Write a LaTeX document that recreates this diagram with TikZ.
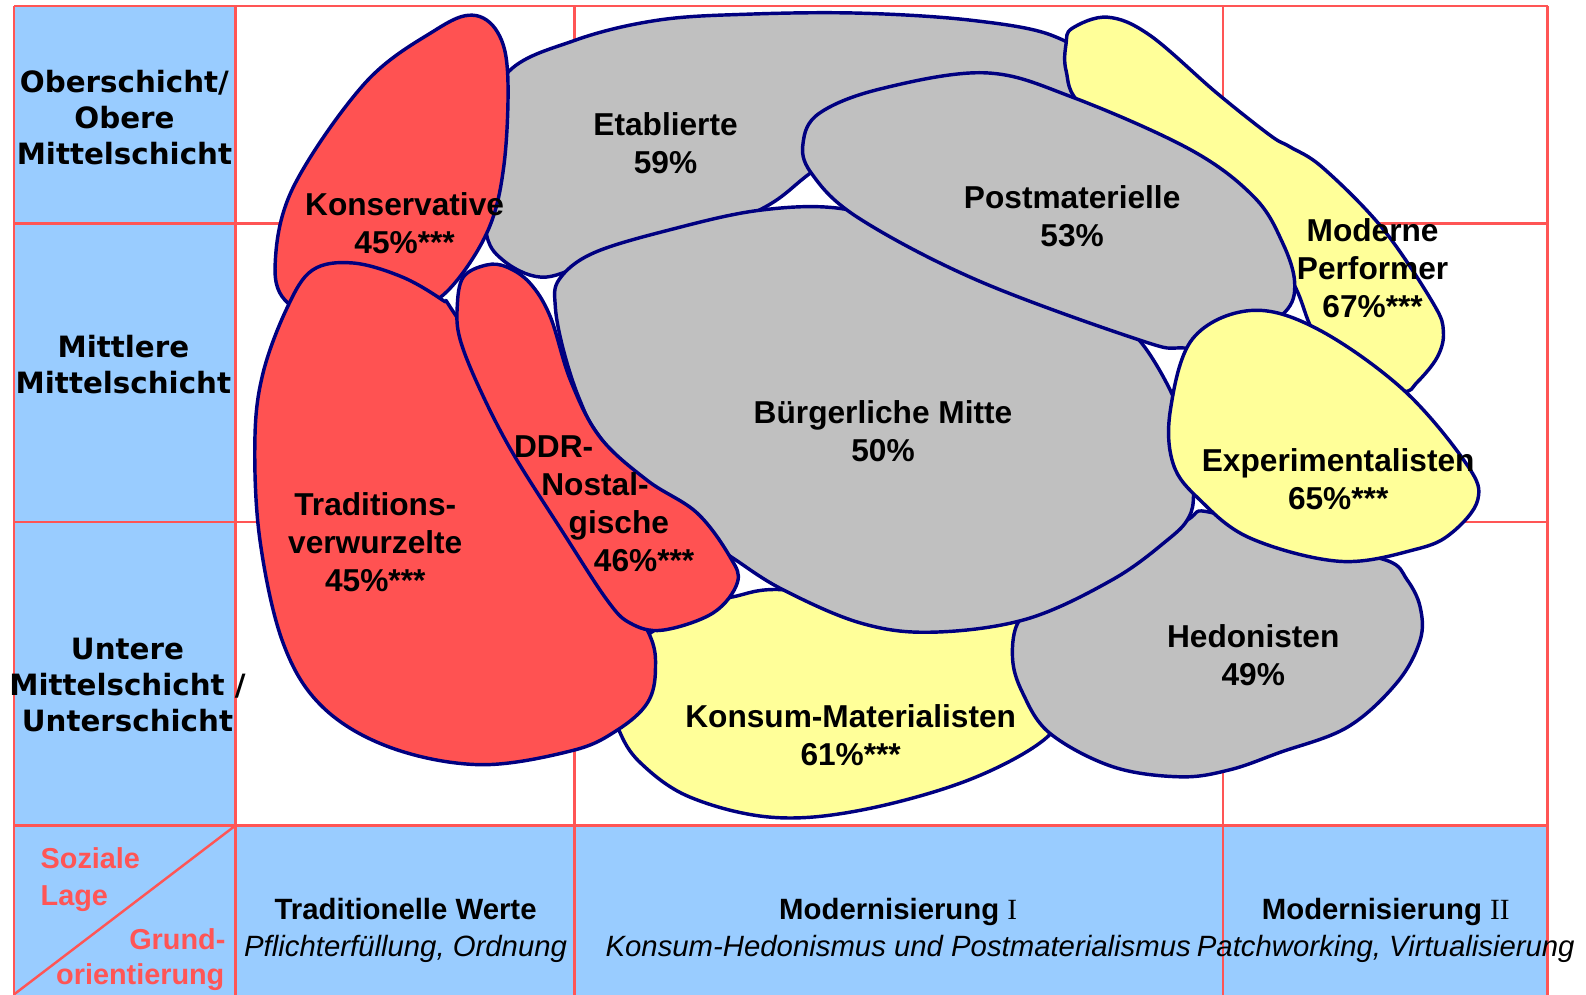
\documentclass[tikz,border=0pt]{standalone}
\usepackage{fontspec}
\setmainfont{Liberation Sans}
\newfontfamily\layerfamily{DejaVu Sans}
\newfontfamily\romanfamily{Liberation Serif}
\definecolor{gridred}{RGB}{255,85,85}
\definecolor{cellblue}{RGB}{153,204,255}
\definecolor{blobred}{RGB}{255,82,82}
\definecolor{blobgrey}{RGB}{192,192,192}
\definecolor{blobyellow}{RGB}{255,255,153}
\definecolor{rim}{RGB}{0,0,128}
\tikzset{
	blob/.style={draw=rim, line width=3.4pt, line join=round},
	gridline/.style={draw=gridred, line width=2.4pt},
	milieu/.style={font=\fontsize{31.3}{37.5}\selectfont\bfseries, align=center, inner sep=0pt},
	layer/.style={font=\layerfamily\bfseries\fontsize{29}{35.5}\selectfont, align=center, inner sep=0pt},
	axislabel/.style={font=\fontsize{28.5}{34}\selectfont\bfseries, text=gridred, inner sep=0pt},
	headbold/.style={font=\fontsize{29}{35}\selectfont\bfseries, anchor=base, inner sep=0pt},
	headital/.style={font=\fontsize{29}{35}\selectfont\itshape, anchor=base, inner sep=0pt},
}

\begin{document}
\begin{tikzpicture}[x=1pt,y=-1pt]
	\useasboundingbox (0,0) rectangle (1568,983);
	\clip (0,0) rectangle (1568,983);
	
	%grid
	\fill[cellblue] (14,6) rectangle (233,990);		%left column
	\fill[cellblue] (14,816) rectangle (1530,990);	%bottom row
	\draw[gridline] (14,6)--(1530,6);
	\draw[gridline] (14,221)--(1530,221);
	\draw[gridline] (14,516)--(1530,516);
	\draw[gridline] (14,816)--(1530,816);
	\draw[gridline] (14,6)--(14,990);
	\draw[gridline] (233,6)--(233,990);
	\draw[gridline] (568,6)--(568,990);
	\draw[gridline] (1209,6)--(1209,990);
	\draw[gridline] (1530,6)--(1530,990);
	\draw[gridline] (233,816)--(14,983);		%corner diagonal
	
	%milieus (back to front)
	\filldraw[blob,fill=blobgrey] plot[smooth cycle,tension=0.6] coordinates {(500,74) (568,40) (650,20) (740,14) (850,13) (960,20) (1040,35) (1075,65) (1040,120) (850,135) (800,172) (750,208) (650,245) (580,262) (535,274) (497,257) (480,227) (478,150)}; %Etablierte
	\filldraw[blob,fill=blobyellow] plot[smooth cycle,tension=0.6] coordinates {(1060,28) (1095,17) (1137,35) (1203,92) (1256,134) (1275,145) (1308,166) (1367,226) (1417,300) (1427,328) (1421,353) (1401,378) (1387,387) (1345,375) (1310,345) (1295,321) (1278,279) (1240,225) (1150,165) (1070,105) (1054,70) (1054,43)}; %Moderne Performer
	\filldraw[blob,fill=blobred] plot[smooth cycle,tension=0.6] coordinates {(467,15) (492,32) (502,75) (498,165) (481,231) (440,290) (400,305) (330,315) (285,300) (272,262) (290,185) (361,82) (430,30)}; %Konservative
	\filldraw[blob,fill=blobyellow] plot[smooth cycle,tension=0.6] coordinates {(725,590) (774,583) (880,598) (1000,606) (1045,640) (1050,690) (1035,729) (958,771) (851,801) (763,808) (682,788) (633,754) (612,722) (605,690) (625,640) (690,600)}; %Konsum-Materialisten
	\filldraw[blob,fill=blobgrey] plot[smooth cycle,tension=0.6] coordinates {(1199,507) (1300,540) (1371,554) (1391,573) (1404,600) (1404,633) (1381,675) (1332,719) (1265,744) (1216,761) (1167,768) (1100,758) (1038,725) (1011,685) (1001,650) (1008,613) (1040,595) (1120,555) (1174,514)}; %Hedonisten
	\filldraw[blob,fill=blobgrey] plot[smooth cycle,tension=0.6] coordinates {(553,276) (587,250) (663,227) (750,208) (830,206) (900,228) (1000,275) (1100,322) (1126,336) (1157,386) (1176,440) (1180,487) (1175,512) (1154,534) (1100,573) (1015,612) (922,625) (851,616) (774,583) (725,552) (700,535) (650,500) (593,432) (573,395) (557,346) (549,303)}; %Buergerliche Mitte
	\filldraw[blob,fill=blobgrey] plot[smooth cycle,tension=0.6] coordinates {(870,88) (974,72) (1060,96) (1177,148) (1240,195) (1268,240) (1280,280) (1270,309) (1225,338) (1169,344) (1126,336) (966,277) (848,215) (802,171) (794,141) (810,112)}; %Postmaterielle
	\filldraw[blob,fill=blobyellow] plot[smooth cycle,tension=0.6] coordinates {(1236,307) (1302,325) (1387,385) (1450,459) (1461,494) (1435,527) (1400,543) (1325,555) (1236,532) (1186,494) (1160,459) (1157,406) (1179,335)}; %Experimentalisten
	\filldraw[blob,fill=blobred] plot[smooth cycle,tension=0.6] coordinates {(349,260) (398,274) (438,297) (448,308) (520,420) (600,560) (641,625) (648,662) (640,695) (610,722) (566,742) (475,756) (386,739) (319,699) (280,636) (257,534) (252,435) (260,369) (284,304) (309,267)}; %Traditionsverwurzelte
	\filldraw[blob,fill=blobred] plot[smooth cycle,tension=0.6] coordinates {(481,262) (501,264) (524,280) (544,313) (564,376) (593,432) (640,475) (689,507) (722,551) (729,576) (705,606) (655,623) (623,616) (600,593) (557,527) (507,448) (475,386) (455,336) (452,304) (458,274)}; %DDR-Nostalgische
	
	%milieu labels
	\node[milieu] (konserv) at (400,221) {Konservative\\45\%***};
	\node[milieu] (etabl) at (658,142) {Etablierte\\59\%};
	\node[milieu] (postmat) at (1060,214) {Postmaterielle\\53\%};
	\node[milieu] (modperf) at (1357,265) {Moderne\\Performer\\67\%***};
	\node[milieu] (buergmitte) at (873,426) {Bürgerliche Mitte\\50\%};
	\node[milieu] (experi) at (1323,474) {Experimentalisten\\65\%***};
	\node[milieu] (tradver) at (371,536) {Traditions-\\verwurzelte\\45\%***};
	\node[milieu,align=left,anchor=north west] (ddrnost) at (508,431) {DDR-\\\hspace*{27pt}Nostal-\\\hspace*{54pt}gische\\\hspace*{79pt}46\%***};
	\node[milieu] (konsmat) at (841,727) {Konsum-Materialisten\\61\%***};
	\node[milieu] (hedon) at (1239,648) {Hedonisten\\49\%};
	
	%social layers
	\node[layer] (oberschicht) at (123,116) {Oberschicht/\\Obere\\Mittelschicht};
	\node[layer] (mittlere) at (122,360) {Mittlere\\Mittelschicht};
	\node[layer] (untere) at (126,677) {Untere\\Mittelschicht /\\Unterschicht};
	
	%corner cell
	\node[axislabel,anchor=base west] (soziale) at (40,859) {Soziale};
	\node[axislabel,anchor=base west] (lage) at (40,895) {Lage};
	\node[axislabel,anchor=base east] (grund) at (223,939) {Grund-};
	\node[axislabel,anchor=base east] (orient) at (222,973) {orientierung};
	
	%value orientations
	\node[headbold] (tradwerte) at (401,909) {Traditionelle Werte};
	\node[headital] (pflicht) at (401,946) {Pflichterfüllung, Ordnung};
	\node[headbold] (modI) at (888,909) {Modernisierung {\romanfamily\mdseries I}};
	\node[headital] (konshed) at (888,946) {Konsum-Hedonismus und Postmaterialismus};
	\node[headbold] (modII) at (1370,909) {Modernisierung {\romanfamily\mdseries II}};
	\node[headital] (patch) at (1370,946) {Patchworking, Virtualisierung};
	
	%\draw[help lines] (0,0) grid (1568,983);
\end{tikzpicture}
\end{document}
